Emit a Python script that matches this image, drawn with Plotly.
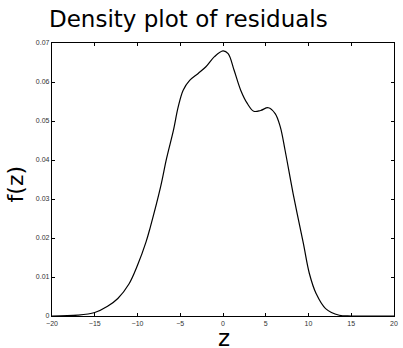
import plotly.graph_objects as go

z_vals = [-20, -17, -15, -13.5, -12.3, -11, -10, -9, -8.5, -7.3, -6.6, -5.8, -5.24, -4.66,
          -3.9, -2.9, -2.0, -1.0, 0.0, 0.6, 1.3, 2.07, 2.84, 3.6, 4.4, 5.3, 6.1, 6.7, 7.26,
          8.2, 9.4, 10.1, 10.9, 12.0, 13.6, 15, 20]
f_vals = [0, 0.0002, 0.0009, 0.0025, 0.0045, 0.0082, 0.013, 0.019, 0.0228, 0.0331, 0.0404,
          0.0476, 0.0536, 0.0579, 0.0604, 0.0622, 0.0639, 0.0665, 0.068, 0.0673, 0.063,
          0.0579, 0.0545, 0.0525, 0.0527, 0.0534, 0.0519, 0.0485, 0.0425, 0.0314, 0.0186,
          0.0109, 0.0057, 0.0019, 0.0002, 0, 0]

x_ticks = [-20, -15, -10, -5, 0, 5, 10, 15, 20]
x_tick_text = ["\u221220", "\u221215", "\u221210", "\u22125", "0", "5", "10", "15", "20"]
y_ticks = [0, 0.01, 0.02, 0.03, 0.04, 0.05, 0.06, 0.07]
y_tick_text = ["0", "0.01", "0.02", "0.03", "0.04", "0.05", "0.06", "0.07"]

W, H = 403, 348
L, R, T, B = 52, 5, 43, 32
PW, PH = W - L - R, H - T - B

fig = go.Figure()
fig.add_trace(go.Scatter(x=z_vals, y=f_vals, mode="lines",
                         line=dict(color="black", width=1.2, shape="spline", smoothing=1.0),
                         hoverinfo="skip", showlegend=False))

axis_common = dict(showgrid=False, zeroline=False, showline=True, linecolor="black",
                   linewidth=1.3, mirror="ticks", ticks="inside", ticklen=3,
                   tickcolor="black", tickwidth=1,
                   tickfont=dict(family="Liberation Sans", size=7, color="#333333"))

fig.update_xaxes(range=[-20, 20], tickvals=x_ticks, ticktext=x_tick_text, **axis_common)
fig.update_yaxes(range=[0, 0.07], tickvals=y_ticks, ticktext=y_tick_text, **axis_common)

fig.update_layout(
    width=W, height=H,
    margin=dict(l=L, r=R, t=T, b=B),
    paper_bgcolor="white", plot_bgcolor="white",
    annotations=[
        dict(text="Density plot of residuals", xref="paper", yref="paper",
             x=(190 - L) / PW, y=(H - B - 19) / PH, showarrow=False,
             xanchor="center", yanchor="middle",
             font=dict(family="DejaVu Sans", size=23, color="black")),
        dict(text="f(z)", xref="paper", yref="paper", x=(16 - L) / PW, y=(H - B - 184) / PH,
             showarrow=False, textangle=-90, xanchor="center", yanchor="middle",
             font=dict(family="DejaVu Sans", size=22, color="black")),
        dict(text="z", xref="paper", yref="paper", x=(226 - L) / PW, y=-(338 - (H - B)) / PH,
             showarrow=False, xanchor="center", yanchor="middle",
             font=dict(family="DejaVu Sans", size=23, color="black")),
    ],
)

fig.write_html("out.html")
